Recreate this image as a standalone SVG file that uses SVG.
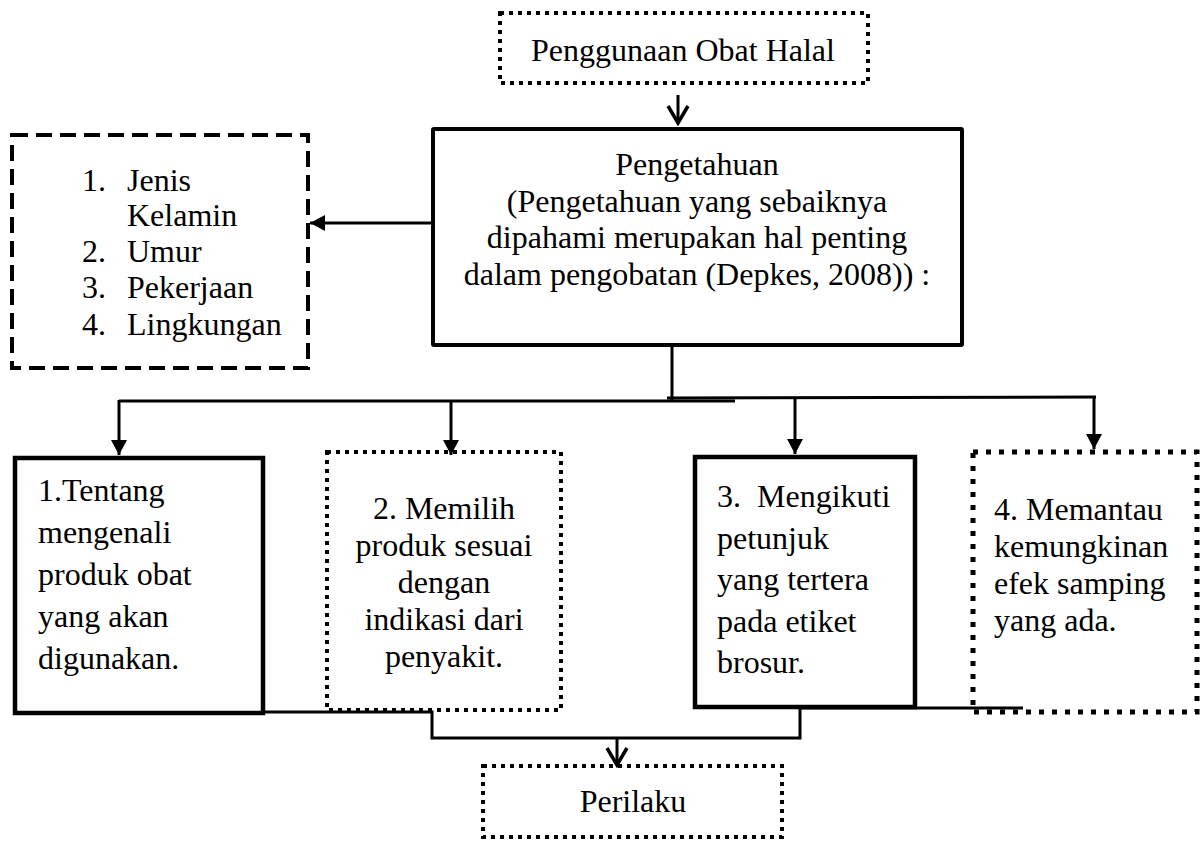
<svg xmlns="http://www.w3.org/2000/svg" width="1201" height="841" viewBox="0 0 1201 841">
<defs>
<style>
text{font-family:"Liberation Serif","Times New Roman",serif;font-size:32px;fill:#000}
.mid{text-anchor:middle}
.box{fill:none;stroke:#000}
.solid{stroke-width:4.5}
.dot{stroke-width:4;stroke-dasharray:4 5}
.dotbig{stroke-width:5;stroke-dasharray:5 8}
.dash{stroke-width:4;stroke-dasharray:16 8}
.ln{fill:none;stroke:#000;stroke-width:3}
</style>
<marker id="tri" markerUnits="userSpaceOnUse" markerWidth="16" markerHeight="16" refX="15" refY="8" orient="auto">
<path d="M0,0 L15,8 L0,16 z" fill="#000"/>
</marker>
<marker id="vee" markerUnits="userSpaceOnUse" markerWidth="22" markerHeight="26" refX="19" refY="12" orient="auto">
<path d="M2,2 L19,12 L2,22" fill="none" stroke="#000" stroke-width="3.5"/>
</marker>
</defs>
<rect width="1201" height="841" fill="#fff"/>

<g id="node-penggunaan">
<rect class="box dot" x="500" y="13" width="368" height="70"/>
<text class="mid" x="683" y="61">Penggunaan Obat Halal</text>
</g>

<g id="node-pengetahuan">
<rect class="box" stroke-width="4" x="433" y="129" width="529" height="216" rx="1"/>
<text class="mid" x="697" y="175">Pengetahuan</text>
<text class="mid" x="697" y="212">(Pengetahuan yang sebaiknya</text>
<text class="mid" x="697" y="248">dipahami merupakan hal penting</text>
<text class="mid" x="697" y="285">dalam pengobatan (Depkes, 2008)) :</text>
</g>

<g id="node-faktor">
<rect class="box dash" x="12" y="135" width="296" height="233"/>
<text x="82" y="191">1.</text><text x="127" y="191">Jenis</text>
<text x="127" y="226">Kelamin</text>
<text x="82" y="262">2.</text><text x="127" y="262">Umur</text>
<text x="82" y="298">3.</text><text x="127" y="298">Pekerjaan</text>
<text x="82" y="335">4.</text><text x="127" y="335">Lingkungan</text>
</g>

<g id="node-1">
<rect class="box solid" x="15" y="458" width="248" height="255"/>
<text x="38" y="501">1.Tentang</text>
<text x="38" y="543">mengenali</text>
<text x="38" y="585">produk obat</text>
<text x="38" y="627">yang akan</text>
<text x="38" y="669">digunakan.</text>
</g>

<g id="node-2">
<rect class="box dot" x="327" y="452" width="234" height="258"/>
<text class="mid" x="444" y="519">2. Memilih</text>
<text class="mid" x="444" y="556">produk sesuai</text>
<text class="mid" x="444" y="593">dengan</text>
<text class="mid" x="444" y="630">indikasi dari</text>
<text class="mid" x="444" y="667">penyakit.</text>
</g>

<g id="node-3">
<rect class="box solid" x="695" y="457" width="220" height="250"/>
<text x="717" y="507" xml:space="preserve">3.  Mengikuti</text>
<text x="717" y="549">petunjuk</text>
<text x="717" y="590">yang tertera</text>
<text x="717" y="632">pada etiket</text>
<text x="717" y="673">brosur.</text>
</g>

<g id="node-4">
<rect class="box dotbig" x="973" y="452" width="224" height="260"/>
<text x="994" y="520">4. Memantau</text>
<text x="994" y="557">kemungkinan</text>
<text x="994" y="594">efek samping</text>
<text x="994" y="631">yang ada.</text>
</g>

<g id="node-perilaku">
<rect class="box dot" x="483" y="766" width="299" height="71"/>
<text class="mid" x="633" y="812">Perilaku</text>
</g>

<g id="connectors">
<line class="ln" x1="678" y1="95" x2="678" y2="123" marker-end="url(#vee)"/>
<line class="ln" x1="433" y1="223" x2="310" y2="223" marker-end="url(#tri)"/>
<line class="ln" x1="672" y1="345" x2="672" y2="401"/>
<line class="ln" x1="119" y1="401" x2="735" y2="401"/>
<line class="ln" x1="667" y1="398" x2="1096" y2="397"/>
<line class="ln" x1="119" y1="400" x2="119" y2="455" marker-end="url(#tri)"/>
<line class="ln" x1="451" y1="400" x2="451" y2="455" marker-end="url(#tri)"/>
<line class="ln" x1="795" y1="398" x2="795" y2="454" marker-end="url(#tri)"/>
<line class="ln" x1="1094" y1="397" x2="1094" y2="449" marker-end="url(#tri)"/>
<path class="ln" d="M263,712 H432 V738 H800 V708 H1023"/>
<line class="ln" x1="617" y1="738" x2="617" y2="765" marker-end="url(#vee)"/>
</g>
</svg>
